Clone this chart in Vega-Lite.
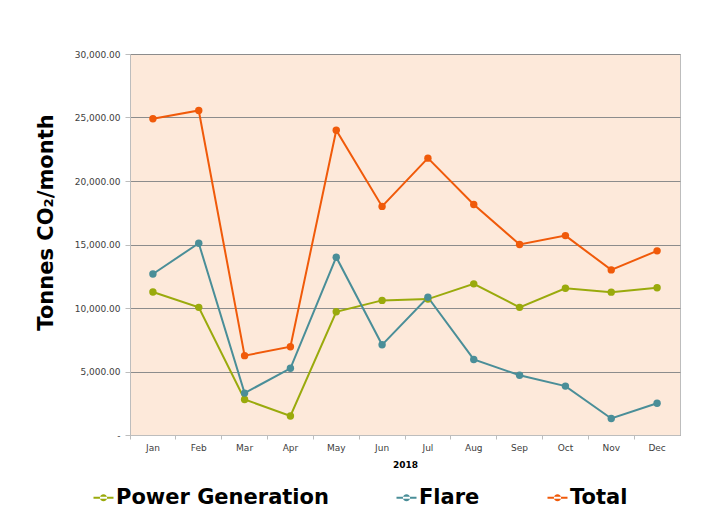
{
  "$schema": "https://vega.github.io/schema/vega-lite/v6.json",
  "width": 550,
  "height": 381,
  "autosize": {"type": "none"},
  "padding": {"left": 130, "top": 54, "right": 27, "bottom": 86},
  "background": "#ffffff",
  "config": {
    "font": "DejaVu Sans",
    "view": {"fill": "#FDE9DA", "stroke": "#BDBDBD", "strokeWidth": 1}
  },
  "data": {
    "values": [
      {"month": "Jan", "series": "Power Generation", "value": 11260},
      {"month": "Feb", "series": "Power Generation", "value": 10050},
      {"month": "Mar", "series": "Power Generation", "value": 2800},
      {"month": "Apr", "series": "Power Generation", "value": 1500},
      {"month": "May", "series": "Power Generation", "value": 9700},
      {"month": "Jun", "series": "Power Generation", "value": 10600},
      {"month": "Jul", "series": "Power Generation", "value": 10700},
      {"month": "Aug", "series": "Power Generation", "value": 11900},
      {"month": "Sep", "series": "Power Generation", "value": 10050},
      {"month": "Oct", "series": "Power Generation", "value": 11550},
      {"month": "Nov", "series": "Power Generation", "value": 11250},
      {"month": "Dec", "series": "Power Generation", "value": 11600},
      {"month": "Jan", "series": "Flare", "value": 12680},
      {"month": "Feb", "series": "Flare", "value": 15100},
      {"month": "Mar", "series": "Flare", "value": 3300},
      {"month": "Apr", "series": "Flare", "value": 5250},
      {"month": "May", "series": "Flare", "value": 14000},
      {"month": "Jun", "series": "Flare", "value": 7100},
      {"month": "Jul", "series": "Flare", "value": 10850},
      {"month": "Aug", "series": "Flare", "value": 5950},
      {"month": "Sep", "series": "Flare", "value": 4700},
      {"month": "Oct", "series": "Flare", "value": 3850},
      {"month": "Nov", "series": "Flare", "value": 1300},
      {"month": "Dec", "series": "Flare", "value": 2500},
      {"month": "Jan", "series": "Total", "value": 24900},
      {"month": "Feb", "series": "Total", "value": 25550},
      {"month": "Mar", "series": "Total", "value": 6250},
      {"month": "Apr", "series": "Total", "value": 6950},
      {"month": "May", "series": "Total", "value": 24000},
      {"month": "Jun", "series": "Total", "value": 18000},
      {"month": "Jul", "series": "Total", "value": 21800},
      {"month": "Aug", "series": "Total", "value": 18150},
      {"month": "Sep", "series": "Total", "value": 15000},
      {"month": "Oct", "series": "Total", "value": 15700},
      {"month": "Nov", "series": "Total", "value": 13000},
      {"month": "Dec", "series": "Total", "value": 14500}
    ]
  },
  "encoding": {
    "x": {
      "field": "month",
      "type": "ordinal",
      "sort": ["Jan","Feb","Mar","Apr","May","Jun","Jul","Aug","Sep","Oct","Nov","Dec"],
      "scale": {"type": "band", "paddingInner": 0, "paddingOuter": 0},
      "title": "2018",
      "axis": {
        "labelAngle": 0,
        "labelFont": "DejaVu Sans",
        "labelFontSize": 9,
        "labelColor": "#404040",
        "labelPadding": 4,
        "bandPosition": 0,
        "tickColor": "#BDBDBD",
        "tickSize": 4,
        "domainColor": "#BDBDBD",
        "titleFont": "DejaVu Sans",
        "titleFontSize": 9,
        "titleFontWeight": "bold",
        "titleColor": "#000000",
        "titlePadding": 8
      }
    },
    "y": {
      "field": "value",
      "type": "quantitative",
      "scale": {"domain": [0, 30000], "nice": false},
      "title": "Tonnes CO₂/month",
      "axis": {
        "values": [0, 5000, 10000, 15000, 20000, 25000, 30000],
        "labelExpr": "datum.value == 0 ? '-' : format(datum.value, ',.2f')",
        "labelFont": "DejaVu Sans",
        "labelFontSize": 9,
        "labelColor": "#404040",
        "labelPadding": 5,
        "tickColor": "#BDBDBD",
        "tickSize": 5,
        "domainColor": "#BDBDBD",
        "grid": true,
        "gridColor": "#8C8C8C",
        "gridWidth": 1,
        "titleFont": "DejaVu Sans",
        "titleFontSize": 21,
        "titleFontWeight": "bold",
        "titleColor": "#000000",
        "titleX": -84,
        "titleY": 168,
        "titleAngle": -90,
        "titleAlign": "center",
        "titleBaseline": "middle"
      }
    },
    "color": {
      "field": "series",
      "type": "nominal",
      "sort": ["Power Generation", "Flare", "Total"],
      "scale": {
        "domain": ["Power Generation", "Flare", "Total"],
        "range": ["#9AAA0C", "#4A8E98", "#F05A0A"]
      },
      "legend": {
        "orient": "none",
        "direction": "horizontal",
        "legendX": -37,
        "legendY": 433,
        "title": null,
        "symbolType": "M-1,-0.11H1V0.11H-1Z M-0.36,0A0.36,0.36 0 1 0 0.36,0A0.36,0.36 0 1 0 -0.36,0Z",
        "symbolSize": 400,
        "symbolStrokeWidth": 0,
        "labelFont": "DejaVu Sans",
        "labelFontSize": 21,
        "labelFontWeight": "bold",
        "labelColor": "#000000",
        "labelOffset": 2,
        "columnPadding": 67,
        "labelLimit": 400
      }
    }
  },
  "layer": [
    {"mark": {"type": "line", "strokeWidth": 2}},
    {"mark": {"type": "point", "filled": true, "size": 55, "opacity": 1}}
  ]
}
